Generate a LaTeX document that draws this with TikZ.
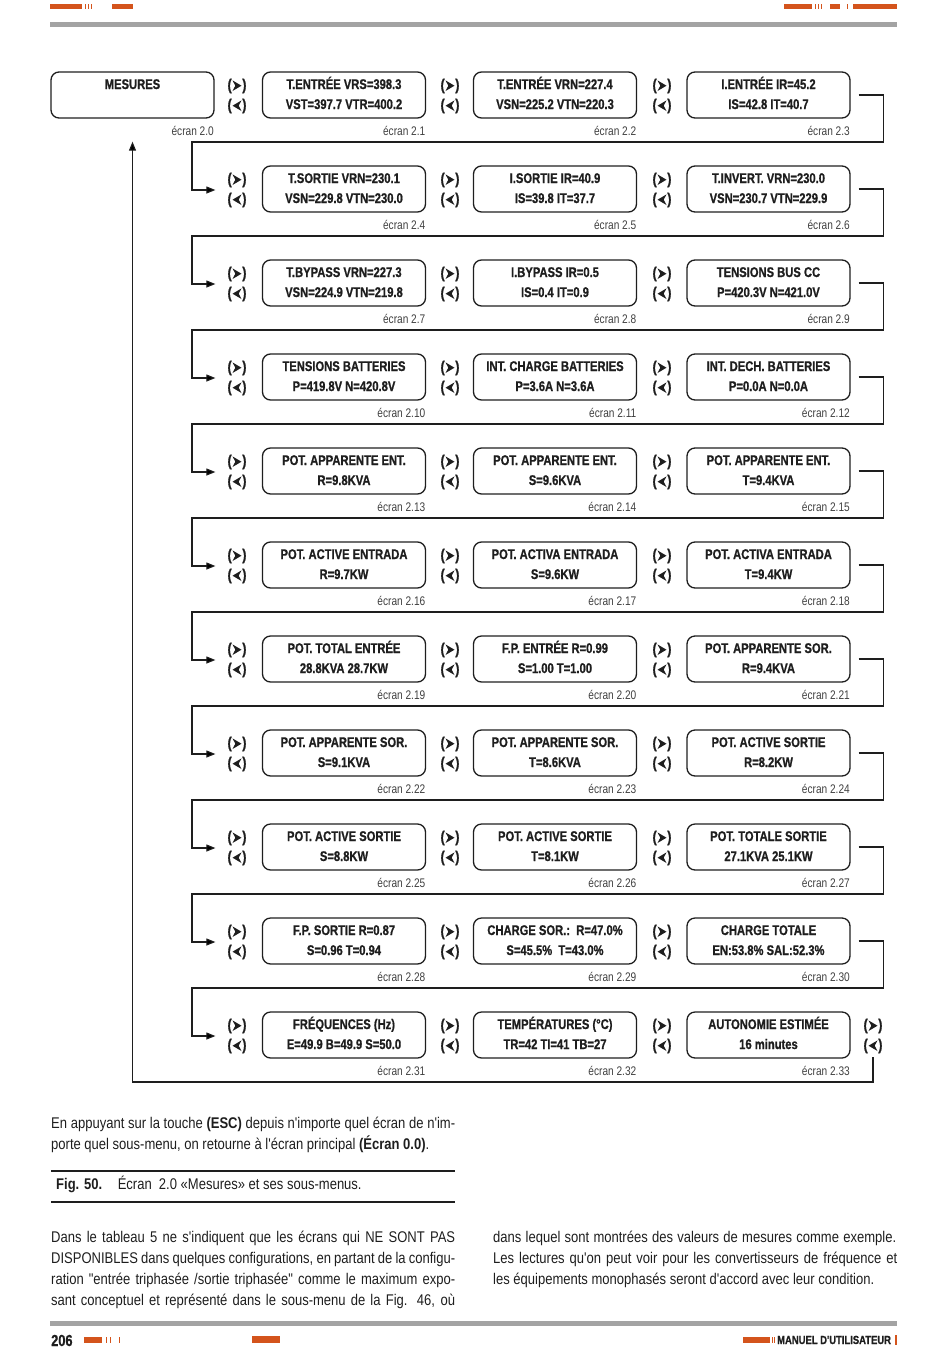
\documentclass[tikz,border=0pt]{standalone}
\usepackage{fontspec}
\setmainfont{Liberation Sans}
\newfontfamily\cond[FakeStretch=0.81]{Liberation Sans}
\newfontfamily\condb[UprightFont={* Bold},FakeStretch=0.80,FakeBold=0.9]{Liberation Sans}
\newfontfamily\bodyf[FakeStretch=0.84]{Liberation Sans}
\usetikzlibrary{arrows.meta}
\definecolor{orng}{HTML}{D4541C}
\definecolor{rulegray}{HTML}{A3A3A3}
\definecolor{ink}{HTML}{1E1E1E}
\newcommand\dartR{\tikz[baseline=-4.3pt]\fill[ink] (9pt,0pt)--(0pt,5.3pt)--(2.8pt,0pt)--(0pt,-5.3pt)--cycle;}
\newcommand\dartL{\tikz[baseline=-4.3pt]\fill[ink] (0pt,0pt)--(9pt,5.3pt)--(6.2pt,0pt)--(9pt,-5.3pt)--cycle;}
\newcommand\navR{(\kern0.8pt\dartR\kern0.8pt)}
\newcommand\navL{(\kern0.8pt\dartL\kern0.8pt)}
\newcommand\scr[6]{%
  \node[box] (#1) at (#2,#3+23) {\strut#4\\\strut#5};
  \node[lbl] (#1l) at (#2+81.5,#3+63) {écran #6};}
\begin{document}
\begin{tikzpicture}[x=1pt,y=-1pt,
  box/.style={draw=ink, line width=1.3pt, rounded corners=8pt, minimum width=163pt,
    minimum height=46pt, inner sep=0pt, align=center, text=ink,
    font=\condb\fontsize{14}{20}\selectfont},
  lbl/.style={anchor=base east, inner sep=0pt, text=ink!85,
    font=\cond\fontsize{12.5}{14}\selectfont},
  nav/.style={inner sep=0pt, align=center, text=ink,
    font=\condb\fontsize{15.5}{20}\selectfont},
  conn/.style={draw=ink, line width=1.1pt},
  tip/.style={-{Triangle[length=9pt,width=7pt]}},
  body/.style={anchor=base west, inner sep=0pt, text=ink,
    font=\bodyf\fontsize{15.5}{18}\selectfont},
  orbar/.style={fill=orng, draw=none}]
\useasboundingbox (0,0) rectangle (950,1360);
% header
\fill[orbar] (50,4) rectangle (82,9);
\fill[orbar] (84.5,4) rectangle (85.8,9);
\fill[orbar] (87.5,4) rectangle (88.8,9);
\fill[orbar] (90.5,4) rectangle (91.8,9);
\fill[orbar] (112,4) rectangle (133,9);
\fill[orbar] (784,4) rectangle (812,9);
\fill[orbar] (815,4) rectangle (816.3,9);
\fill[orbar] (818,4) rectangle (819.3,9);
\fill[orbar] (821,4) rectangle (822.3,9);
\fill[orbar] (830,4) rectangle (840,9);
\fill[orbar] (846.5,4) rectangle (847.8,9);
\fill[orbar] (853,4) rectangle (897,9);
\fill[rulegray] (50,22) rectangle (897,27);
% navigation symbols
\foreach \r in {0,...,10}{
  \pgfmathsetmacro\T{72+94*\r}
  \node[nav] (nA\r) at (237,\T+24) {\navR\\\navL};
  \node[nav] (nB\r) at (450,\T+24) {\navR\\\navL};
  \node[nav] (nC\r) at (662,\T+24) {\navR\\\navL};
}
\node[nav] (nD10) at (873,1012+24) {\navR\\\navL};
% screens
\scr{s0-0}{132.5}{72}{MESURES}{}{2.0}
\scr{s0-1}{344}{72}{T.ENTRÉE VRS=398.3}{VST=397.7 VTR=400.2}{2.1}
\scr{s0-2}{555}{72}{T.ENTRÉE VRN=227.4}{VSN=225.2 VTN=220.3}{2.2}
\scr{s0-3}{768.5}{72}{I.ENTRÉE IR=45.2}{IS=42.8 IT=40.7}{2.3}
\scr{s1-1}{344}{166}{T.SORTIE VRN=230.1}{VSN=229.8 VTN=230.0}{2.4}
\scr{s1-2}{555}{166}{I.SORTIE IR=40.9}{IS=39.8 IT=37.7}{2.5}
\scr{s1-3}{768.5}{166}{T.INVERT. VRN=230.0}{VSN=230.7 VTN=229.9}{2.6}
\scr{s2-1}{344}{260}{T.BYPASS VRN=227.3}{VSN=224.9 VTN=219.8}{2.7}
\scr{s2-2}{555}{260}{I.BYPASS IR=0.5}{IS=0.4 IT=0.9}{2.8}
\scr{s2-3}{768.5}{260}{TENSIONS BUS CC}{P=420.3V N=421.0V}{2.9}
\scr{s3-1}{344}{354}{TENSIONS BATTERIES}{P=419.8V N=420.8V}{2.10}
\scr{s3-2}{555}{354}{INT. CHARGE BATTERIES}{P=3.6A N=3.6A}{2.11}
\scr{s3-3}{768.5}{354}{INT. DECH. BATTERIES}{P=0.0A N=0.0A}{2.12}
\scr{s4-1}{344}{448}{POT. APPARENTE ENT.}{R=9.8KVA}{2.13}
\scr{s4-2}{555}{448}{POT. APPARENTE ENT.}{S=9.6KVA}{2.14}
\scr{s4-3}{768.5}{448}{POT. APPARENTE ENT.}{T=9.4KVA}{2.15}
\scr{s5-1}{344}{542}{POT. ACTIVE ENTRADA}{R=9.7KW}{2.16}
\scr{s5-2}{555}{542}{POT. ACTIVA ENTRADA}{S=9.6KW}{2.17}
\scr{s5-3}{768.5}{542}{POT. ACTIVA ENTRADA}{T=9.4KW}{2.18}
\scr{s6-1}{344}{636}{POT. TOTAL ENTRÉE}{28.8KVA 28.7KW}{2.19}
\scr{s6-2}{555}{636}{F.P. ENTRÉE R=0.99}{S=1.00 T=1.00}{2.20}
\scr{s6-3}{768.5}{636}{POT. APPARENTE SOR.}{R=9.4KVA}{2.21}
\scr{s7-1}{344}{730}{POT. APPARENTE SOR.}{S=9.1KVA}{2.22}
\scr{s7-2}{555}{730}{POT. APPARENTE SOR.}{T=8.6KVA}{2.23}
\scr{s7-3}{768.5}{730}{POT. ACTIVE SORTIE}{R=8.2KW}{2.24}
\scr{s8-1}{344}{824}{POT. ACTIVE SORTIE}{S=8.8KW}{2.25}
\scr{s8-2}{555}{824}{POT. ACTIVE SORTIE}{T=8.1KW}{2.26}
\scr{s8-3}{768.5}{824}{POT. TOTALE SORTIE}{27.1KVA 25.1KW}{2.27}
\scr{s9-1}{344}{918}{F.P. SORTIE R=0.87}{S=0.96 T=0.94}{2.28}
\scr{s9-2}{555}{918}{CHARGE SOR.:\ \ R=47.0\%}{S=45.5\%\ \ T=43.0\%}{2.29}
\scr{s9-3}{768.5}{918}{CHARGE TOTALE}{EN:53.8\% SAL:52.3\%}{2.30}
\scr{s10-1}{344}{1012}{FRÉQUENCES (Hz)}{E=49.9 B=49.9 S=50.0}{2.31}
\scr{s10-2}{555}{1012}{TEMPÉRATURES (°C)}{TR=42 TI=41 TB=27}{2.32}
\scr{s10-3}{768.5}{1012}{AUTONOMIE ESTIMÉE}{16 minutes}{2.33}
% row-to-row connectors
\foreach \r in {0,...,9}{
  \pgfmathsetmacro\T{72+94*\r}
  \pgfmathtruncatemacro\nx{\r+1}
  \draw[conn,tip] ([xshift=8pt]s\r-3.east) -- ++(25,0) |- (192,\T+70)
     |- ([xshift=-12pt]nA\nx.west);
}
% return arrow
\draw[conn,tip] ([yshift=-4pt]nD10.south) -- (nD10.south |- 0,1082)
   -| ([yshift=-23pt]s0-0.south);
% text below
\node[body] (p1) at (51,1128) {\makebox[404pt][s]{En appuyant sur la touche \textbf{(ESC)} depuis n'importe quel écran de n'im-}};
\node[body] (p2) at (51,1149) {porte quel sous-menu, on retourne à l'écran principal \textbf{(Écran 0.0)}.};
\draw[line width=1.3pt, ink] (51,1171) -- (455,1171);
\node[body] (cap) at (56,1189) {\textbf{Fig. 50.}\quad Écran\ \ 2.0 «Mesures» et ses sous-menus.};
\draw[line width=1.3pt, ink] (51,1202) -- (455,1202);
\node[body] (l1) at (51,1242) {\makebox[404pt][s]{Dans le tableau 5 ne s'indiquent que les écrans qui NE SONT PAS}};
\node[body] (l2) at (51,1263) {\makebox[404pt][s]{DISPONIBLES dans quelques configurations, en partant de la configu-}};
\node[body] (l3) at (51,1284) {\makebox[404pt][s]{ration "entrée triphasée /sortie triphasée" comme le maximum expo-}};
\node[body] (l4) at (51,1305) {\makebox[404pt][s]{sant conceptuel et représenté dans le sous-menu de la Fig. 46, où}};
\node[body] (r1) at (493,1242) {\makebox[403pt][s]{dans lequel sont montrées des valeurs de mesures comme exemple.}};
\node[body] (r2) at (493,1263) {\makebox[404pt][s]{Les lectures qu'on peut voir pour les convertisseurs de fréquence et}};
\node[body] (r3) at (493,1284) {les équipements monophasés seront d'accord avec leur condition.};
% footer
\fill[rulegray] (50,1321) rectangle (897,1326);
\node[anchor=base west, inner sep=0pt, text=ink, font=\condb\fontsize{16}{18}\selectfont] (pg) at (51,1346) {206};
\fill[orbar] (84,1337) rectangle (102,1343);
\fill[orbar] (105.5,1337) rectangle (107,1343);
\fill[orbar] (109.5,1337) rectangle (111,1343);
\fill[orbar] (118.5,1337) rectangle (120,1343);
\fill[orbar] (252,1336) rectangle (280,1343);
\fill[orbar] (743,1337) rectangle (770,1343);
\fill[orbar] (771.5,1337) rectangle (772.5,1343);
\fill[orbar] (774,1337) rectangle (775,1343);
\node[anchor=base west, inner sep=0pt, text=ink, font=\condb\fontsize{11.8}{13}\selectfont] (man) at (777,1344) {MANUEL D'UTILISATEUR};
\fill[orbar] (895,1335) rectangle (896.5,1345);
\end{tikzpicture}
\end{document}
